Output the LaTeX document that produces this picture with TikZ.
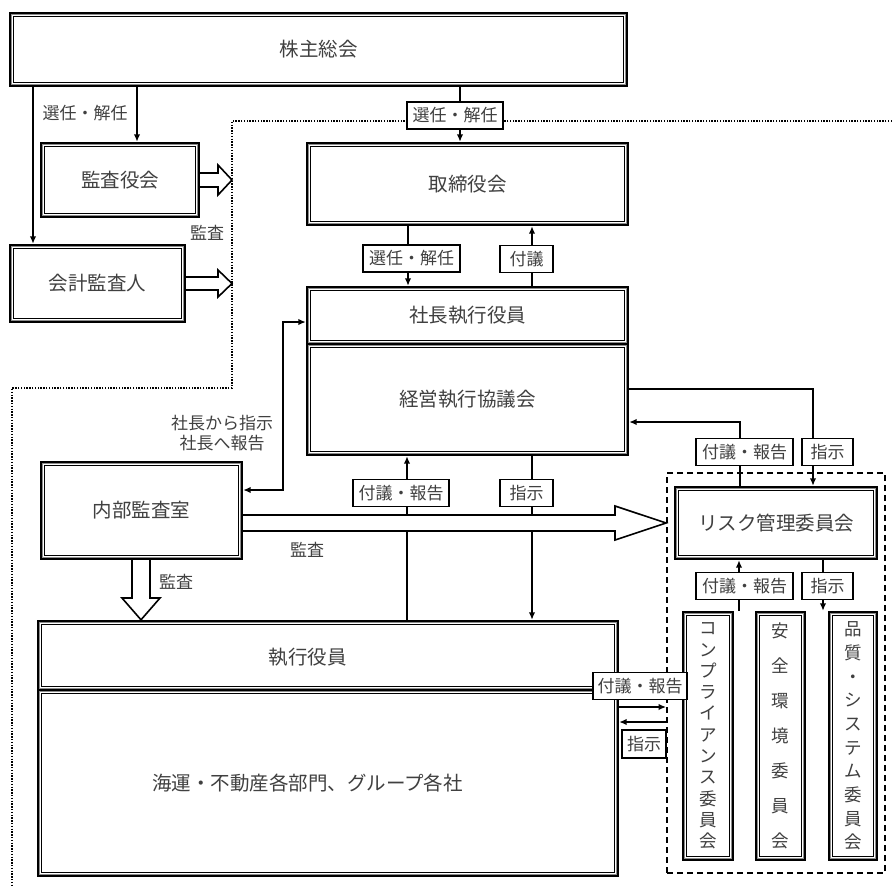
\documentclass[tikz,border=0pt]{standalone}
\usepackage{fontspec}
\newfontfamily\jp{Noto Sans CJK JP}
\usetikzlibrary{arrows.meta}
\tikzset{
  boxst/.style={draw=black, line width=2.4pt, inner sep=0pt, fill=white,
    font=\jp\fontsize{19.5}{22}\selectfont, text=black!75},
  midst/.style={draw=black!45, line width=1.2pt},
  innerst/.style={draw=black, line width=1.1pt},
  ttl/.style={font=\jp\fontsize{19.5}{22}\selectfont, text=black!75, inner sep=0pt},
  lbl/.style={draw=black, line width=1.6pt, fill=white, inner sep=0pt,
    minimum height=27pt, font=\jp\fontsize{17}{19}\selectfont, text=black!75},
  txt/.style={font=\jp\fontsize{17}{20}\selectfont, text=black!75, inner sep=0pt, align=center},
  conn/.style={draw=black, line width=1.6pt, -{Latex[length=7.5pt,width=6.5pt]}},
  conntwo/.style={draw=black, line width=1.6pt, {Latex[length=7.5pt,width=6.5pt]}-{Latex[length=7.5pt,width=6.5pt]}},
  hollow/.style={draw=black, line width=1.6pt, fill=white, line join=miter},
  dotline/.style={draw=black, line width=1.4pt, dash pattern=on 1.4pt off 1.4pt},
  grpst/.style={draw=black, line width=1.8pt, dash pattern=on 6pt off 4pt, inner sep=0pt},
  vt/.style={text=black!75, inner sep=0pt, align=center}
}
\newcommand\mybox[6]{%
  \node[boxst, minimum width=#4pt, minimum height=#5pt] (#1) at (#2,#3) {#6};
  \draw[midst] ([xshift=2.5pt,yshift=-2.5pt]#1.north west) rectangle ([xshift=-2.5pt,yshift=2.5pt]#1.south east);
  \draw[innerst] ([xshift=5pt,yshift=-5pt]#1.north west) rectangle ([xshift=-5pt,yshift=5pt]#1.south east);
}
\begin{document}
\begin{tikzpicture}[x=1pt,y=-1pt]
\useasboundingbox (0,0) rectangle (892,887);
% dotted boundary
\draw[dotline] (892,121) -- (232,121) -- (232,388) -- (12,388) -- (12,887);
% group (dashed)
\node[grpst, minimum width=218pt, minimum height=400pt] (grp) at (776,673) {};
% boxes
\mybox{kabu}{318.5}{49.5}{617}{73}{株主総会}
\mybox{kansa}{120}{180}{158}{74}{監査役会}
\mybox{kaikei}{97.5}{283.5}{175}{77}{会計監査人}
\mybox{tori}{467.5}{184}{321}{82}{取締役会}
\mybox{shacho}{467.5}{315.5}{321}{57}{社長執行役員}
\mybox{keiei}{467.5}{399.5}{321}{111}{経営執行協議会}
\mybox{naibu}{141.5}{510.5}{201}{97}{内部監査室}
\mybox{risk}{776}{523}{202}{72}{リスク管理委員会}
\mybox{shikko}{328}{655.5}{580}{69}{}
\mybox{gyomu}{328}{783}{580}{186}{}
\node[ttl] (tshikko) at (307.5,657) {執行役員};
\node[ttl] (tgyomu) at (307.5,783) {海運・不動産各部門、グループ各社};
\mybox{comp}{708}{736}{50}{248}{}
\mybox{anzen}{780.5}{736}{49}{248}{}
\mybox{hin}{853}{736}{48}{248}{}
\node[vt, font=\jp\fontsize{17.5}{21.3}\selectfont] (tcomp) at (comp) {コ\\ン\\プ\\ラ\\イ\\ア\\ン\\ス\\委\\員\\会};
\node[vt, font=\jp\fontsize{17.5}{35}\selectfont] (tanzen) at (anzen) {安\\全\\環\\境\\委\\員\\会};
\node[vt, font=\jp\fontsize{17.5}{23.7}\selectfont] (thin) at (hin) {品\\質\\・\\シ\\ス\\テ\\ム\\委\\員\\会};
% connectors
\draw[conn] (kabu.south -| 33,0) -- (kaikei.north -| 33,0);
\draw[conn] (kabu.south -| 137,0) -- (kansa.north -| 137,0);
\draw[conn] (kabu.south -| 460,0) -- (tori.north -| 460,0);
\draw[conn] (tori.south -| 408,0) -- (shacho.north -| 408,0);
\draw[conn] (shacho.north -| 532,0) -- (tori.south -| 532,0);
\draw[conn] (shikko.north -| 407,0) -- (keiei.south -| 407,0);
\draw[conn] (keiei.south -| 532,0) -- (shikko.north -| 532,0);
\draw[conn] (keiei.east |- 0,389) -- (813,389) -- (risk.north -| 813,0);
\draw[conn] (risk.north -| 740,0) -- (740,422) -- (keiei.east |- 0,422);
\draw[conn] (comp.north -| 739,0) -- (risk.south -| 739,0);
\draw[conn] (risk.south -| 823,0) -- (comp.north -| 823,0);
\draw[conn] (shikko.east |- 0,707) -- (grp.west |- 0,707);
\draw[conn] (grp.west |- 0,722) -- (shikko.east |- 0,722);
\draw[conntwo] (naibu.east |- 0,490) -- (283,490) -- (283,322) -- (shacho.west |- 0,322);
% hollow arrows
\draw[hollow] (kansa.east |- 0,173) -- (218,173) -- (218,165) -- (232,180) -- (218,195) -- (218,187) -- (kansa.east |- 0,187);
\draw[hollow] (kaikei.east |- 0,277) -- (218,277) -- (218,270) -- (232,283.5) -- (218,297) -- (218,290) -- (kaikei.east |- 0,290);
\draw[hollow] (naibu.east |- 0,515) -- (615,515) -- (615,506) -- (grp.west |- 0,523) -- (615,540) -- (615,531) -- (naibu.east |- 0,531);
\draw[hollow] (naibu.south -| 132,0) -- (132,598) -- (122,598) -- (shikko.north -| 141,0) -- (160,598) -- (150,598) -- (naibu.south -| 150,0);
% label boxes
\node[lbl, minimum width=96pt] (l1) at (455,115.5) {選任・解任};
\node[lbl, minimum width=97pt] (l2) at (411.5,258.5) {選任・解任};
\node[lbl, minimum width=53pt] (l3) at (526.5,259) {付議};
\node[lbl, minimum width=96pt] (l4) at (401,493) {付議・報告};
\node[lbl, minimum width=53pt] (l5) at (526.5,493) {指示};
\node[lbl, minimum width=97pt] (l6) at (744.5,452) {付議・報告};
\node[lbl, minimum width=51pt] (l7) at (827.5,452) {指示};
\node[lbl, minimum width=97pt] (l8) at (744.5,586) {付議・報告};
\node[lbl, minimum width=51pt] (l9) at (827.5,586) {指示};
\node[lbl, minimum width=94pt] (l10) at (640,686) {付議・報告};
\node[lbl, minimum width=44pt, minimum height=28pt] (l11) at (644,744) {指示};
% free texts
\node[txt] (s1) at (85,113) {選任・解任};
\node[txt] (s2) at (207,233) {監査};
\node[txt] (s3) at (222,433) {社長から指示\\社長へ報告};
\node[txt] (s4) at (307,550) {監査};
\node[txt] (s5) at (176,582) {監査};
\end{tikzpicture}
\end{document}
